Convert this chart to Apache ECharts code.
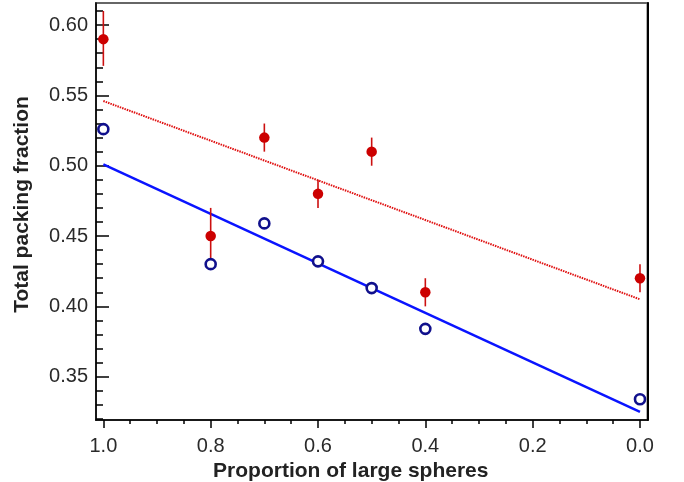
<!DOCTYPE html>
<html><head><meta charset="utf-8">
<script src="https://cdn.jsdelivr.net/npm/echarts@6/dist/echarts.min.js"></script>
<style>html,body{margin:0;padding:0;background:#fff}#c{width:684px;height:482px}</style>
</head><body><div id="c"></div>
<script>
// x: proportion of large spheres
const redX = [1.0, 0.8, 0.7, 0.6, 0.5, 0.4, 0.0];
const redY = [0.590, 0.450, 0.520, 0.480, 0.510, 0.410, 0.420];
const redLow = [0.571, 0.430, 0.510, 0.470, 0.500, 0.400, 0.410];
const redHigh = [0.610, 0.470, 0.530, 0.490, 0.520, 0.420, 0.430];
const blueX = [1.0, 0.8, 0.7, 0.6, 0.5, 0.4, 0.0];
const blueY = [0.526, 0.430, 0.459, 0.432, 0.413, 0.384, 0.334];
const blueFitX = [1.0, 0.0];
const blueFitY = [0.501, 0.325];
const redFitX = [1.0, 0.0];
const redFitY = [0.546, 0.405];
const xTicks = [0.0, 0.2, 0.4, 0.6, 0.8, 1.0];
const xMinorTicks = [0.05,0.1,0.15,0.25,0.3,0.35,0.45,0.5,0.55,0.65,0.7,0.75,0.85,0.9,0.95];
const yTicks = [0.35, 0.40, 0.45, 0.50, 0.55, 0.60];
const yMinorTicks = [0.32,0.33,0.34,0.36,0.37,0.38,0.39,0.41,0.42,0.43,0.44,0.46,0.47,0.48,0.49,0.51,0.52,0.53,0.54,0.56,0.57,0.58,0.59,0.61];
const X_MIN = -0.014, X_MAX = 1.0137, Y_MIN = 0.3192, Y_MAX = 0.6157;

const FONT = '"Liberation Sans", Arial, Helvetica, sans-serif';
const chart = echarts.init(document.getElementById('c'), null, {renderer: 'canvas'});
const zip = (a, b) => a.map((v, i) => [v, b[i]]);
const errData = redX.map((x, i) => [x, redLow[i], redHigh[i]]);
const box = {left: 96, top: 3, right: 36.5, bottom: 62, containLabel: false, outerBoundsMode: 'none'};
const hidden = {axisLine: {show: false, onZero: false}, axisTick: {show: false}, axisLabel: {show: false}, splitLine: {show: false}};

chart.setOption({
  animation: false,
  grid: [
    Object.assign({show: true, borderColor: '#666', borderWidth: 2, backgroundColor: 'transparent'}, box),
    Object.assign({}, box),
    Object.assign({}, box)
  ],
  xAxis: [
    {gridIndex: 0, type: 'value', min: X_MIN, max: X_MAX, inverse: true, position: 'bottom',
     name: 'Proportion of large spheres', nameLocation: 'middle', nameGap: 26,
     nameTextStyle: {fontFamily: FONT, fontSize: 21, fontWeight: 'bold', color: '#222', padding: [0, 42, 0, 0]},
     axisLine: {show: true, onZero: false, lineStyle: {color: '#000', width: 1.5}},
     axisTick: {show: true, inside: false, length: 8, customValues: xTicks, lineStyle: {color: '#000', width: 1.5}},
     axisLabel: {show: true, customValues: xTicks, margin: 16, fontFamily: FONT, fontSize: 20, color: '#2a2a2a', formatter: v => v.toFixed(1)},
     splitLine: {show: false}},
    Object.assign({gridIndex: 1, type: 'value', min: X_MIN, max: X_MAX, inverse: true, position: 'bottom'}, hidden,
     {axisTick: {show: true, inside: false, length: 4, customValues: xMinorTicks, lineStyle: {color: '#000', width: 1.5}}}),
    Object.assign({gridIndex: 2, type: 'value', min: X_MIN, max: X_MAX, inverse: true, position: 'bottom'}, hidden)
  ],
  yAxis: [
    {gridIndex: 0, type: 'value', min: Y_MIN, max: Y_MAX, position: 'left',
     name: 'Total packing fraction', nameLocation: 'middle', nameGap: 63, nameRotate: 90,
     nameTextStyle: {fontFamily: FONT, fontSize: 21, fontWeight: 'bold', color: '#222', padding: [0, 0, 0, 14]},
     axisLine: {show: true, onZero: false, lineStyle: {color: '#000', width: 1.5}},
     axisTick: {show: true, inside: true, length: 13, customValues: yTicks, lineStyle: {color: '#000', width: 1.5}},
     axisLabel: {show: true, customValues: yTicks, margin: 8, fontFamily: FONT, fontSize: 20, color: '#2a2a2a', formatter: v => v.toFixed(2)},
     splitLine: {show: false}},
    Object.assign({gridIndex: 1, type: 'value', min: Y_MIN, max: Y_MAX, position: 'left'}, hidden,
     {axisTick: {show: true, inside: true, length: 7, customValues: yMinorTicks, lineStyle: {color: '#000', width: 1.5}}}),
    Object.assign({gridIndex: 2, type: 'value', min: Y_MIN, max: Y_MAX, position: 'right'}, hidden,
     {axisLine: {show: true, onZero: false, lineStyle: {color: '#000', width: 2}}})
  ],
  series: [
    {type: 'line', xAxisIndex: 0, yAxisIndex: 0, data: zip(redFitX, redFitY), symbol: 'none', z: 2,
     lineStyle: {color: '#e01010', width: 2, type: [1.5, 1]}},
    {type: 'line', xAxisIndex: 0, yAxisIndex: 0, data: zip(blueFitX, blueFitY), symbol: 'none', z: 2,
     lineStyle: {color: '#0a14ff', width: 2.5}},
    {type: 'custom', xAxisIndex: 0, yAxisIndex: 0, data: errData, z: 3,
     renderItem: (params, api) => {
       const p1 = api.coord([api.value(0), api.value(1)]);
       const p2 = api.coord([api.value(0), api.value(2)]);
       return {type: 'line', shape: {x1: p1[0], y1: p1[1], x2: p2[0], y2: p2[1]},
               style: {stroke: '#cc1010', lineWidth: 1.6}};
     }},
    {type: 'scatter', xAxisIndex: 0, yAxisIndex: 0, data: zip(redX, redY), symbol: 'circle', symbolSize: 10.5, z: 4,
     itemStyle: {color: '#cc0000', opacity: 1}},
    {type: 'scatter', xAxisIndex: 0, yAxisIndex: 0, data: zip(blueX, blueY), symbol: 'circle', symbolSize: 10, z: 4,
     itemStyle: {color: '#fff', borderColor: '#10108c', borderWidth: 2.6, opacity: 1}}
  ]
});
</script></body></html>
